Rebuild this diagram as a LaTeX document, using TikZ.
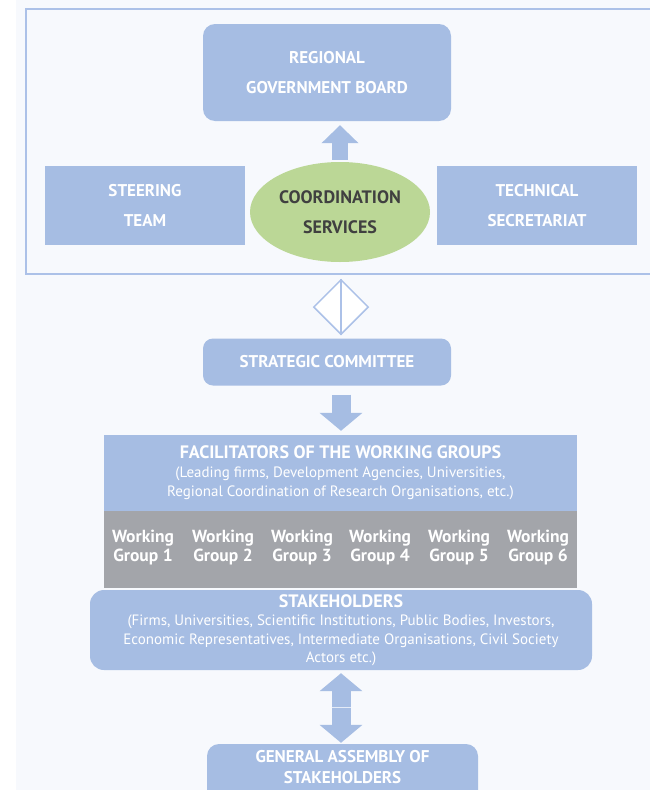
\documentclass[tikz,border=0pt]{standalone}
\usepackage{fontspec}
\setmainfont{PT Sans}
\usetikzlibrary{positioning,calc,shapes.geometric,arrows.meta}
\definecolor{boxblue}{RGB}{166,189,227}
\definecolor{frameblue}{RGB}{172,193,232}
\definecolor{csgreen}{RGB}{187,215,150}
\definecolor{wggray}{RGB}{163,165,170}
\definecolor{pagebg}{RGB}{247,249,253}
\definecolor{darktext}{RGB}{64,64,64}
\tikzset{bluebox/.style={fill=boxblue, text=white, align=center, inner sep=0pt},
  topfont/.style={font=\bfseries\fontsize{17}{30}\selectfont},
  blockarrow/.style={draw=boxblue, line width=#1},
  wglabel/.style={text=white, align=center, font=\bfseries\fontsize{17.5}{19}\selectfont}}

\begin{document}
\begin{tikzpicture}[x=1pt, y=-1pt]
    \useasboundingbox (0,0) rectangle (650,790);
    \clip (0,0) rectangle (650,790);
    \fill[pagebg] (0,0) rectangle (650,790);
    \fill[white] (0,0) rectangle (16,790);
    \draw[frameblue, line width=1.5pt] (26,9) rectangle (664,274);
    \node[bluebox, topfont, rounded corners=12pt, minimum width=248pt, minimum height=97pt] (board) at (327,72.5) {REGIONAL\\GOVERNMENT BOARD};
    \node[ellipse, fill=csgreen, text=darktext, align=center, inner sep=0pt, minimum width=180pt, minimum height=100pt, font=\bfseries\fontsize{18}{30}\selectfont] (cs) at (340,212) {COORDINATION\\SERVICES};
    \node[bluebox, topfont, minimum width=200pt, minimum height=79pt] (steering) at (145,205.5) {STEERING\\TEAM};
    \node[bluebox, topfont, minimum width=200pt, minimum height=79pt] (technical) at (537,205.5) {TECHNICAL\\SECRETARIAT};
    \draw[blockarrow=16pt, -{Triangle[length=18pt,width=36pt]}] ([yshift=2pt]cs.north) -- ([yshift=-4pt]cs.north |- board.south);
    \node[diamond, draw=frameblue, fill=white, line width=1.5pt, minimum size=55pt, inner sep=0pt] (link) at (341,307) {};
    \draw[frameblue, line width=1.5pt] (link.north) -- (link.south);
    \node[bluebox, topfont, rounded corners=10pt, minimum width=248pt, minimum height=47pt] (strat) at (327,362) {STRATEGIC COMMITTEE};
    \node[bluebox, minimum width=473pt, minimum height=76pt, font=\fontsize{15}{19}\selectfont] (facil) at (340.5,473) {{\bfseries\fontsize{18}{19}\selectfont FACILITATORS OF THE WORKING GROUPS}\\(Leading firms, Development Agencies, Universities,\\Regional Coordination of Research Organisations, etc.)};
    \draw[blockarrow=19pt, -{Triangle[length=18pt,width=42pt]}] ([yshift=-9pt]link.south |- strat.south) -- ([yshift=4pt]link.south |- facil.north);
    \node[fill=wggray, minimum width=473pt, minimum height=77pt, inner sep=0pt] (wgrow) at (340.5,549.5) {};
    \foreach \i/\x in {1/143,2/223,3/302,4/380,5/459,6/538}
      \node[wglabel] (wg\i) at (\x,548) {Working\\Group \i};
    \foreach \a/\b in {2/3,3/4,4/5,5/6}
      \draw[white, line width=1.6pt] ($(wg\a)!0.5!(wg\b)$ |- wgrow.north) -- ($(wg\a)!0.5!(wg\b)$ |- wgrow.south);
    \node[bluebox, rounded corners=14pt, minimum width=502pt, minimum height=80pt, font=\fontsize{15}{18.5}\selectfont] (stake) at (341,630) {{\bfseries\fontsize{18}{19}\selectfont STAKEHOLDERS}\\(Firms, Universities, Scientific Institutions, Public Bodies, Investors,\\Economic Representatives, Intermediate Organisations, Civil Society\\Actors etc.)};
    \node[bluebox, rounded corners=12pt, minimum width=271pt, minimum height=66pt] (assembly) at (342.5,777) {};
    \node[text=white, align=center, font=\bfseries\fontsize{17}{21}\selectfont] (assemblytext) at (342.5,767) {GENERAL ASSEMBLY OF\\STAKEHOLDERS};
    \coordinate (seam) at ($(stake.south)!0.5!(assembly.north)$);
    \draw[blockarrow=19pt, {Triangle[length=18pt,width=42pt]}-{Triangle[length=18pt,width=42pt]}] ([yshift=-3pt]link.south |- stake.south) -- ([yshift=1pt]link.south |- assembly.north);
    \draw[white!70!boxblue, line width=0.8pt] ([xshift=-9.5pt]link.south |- seam) -- ([xshift=9.5pt]link.south |- seam);
\end{tikzpicture}
\end{document}
